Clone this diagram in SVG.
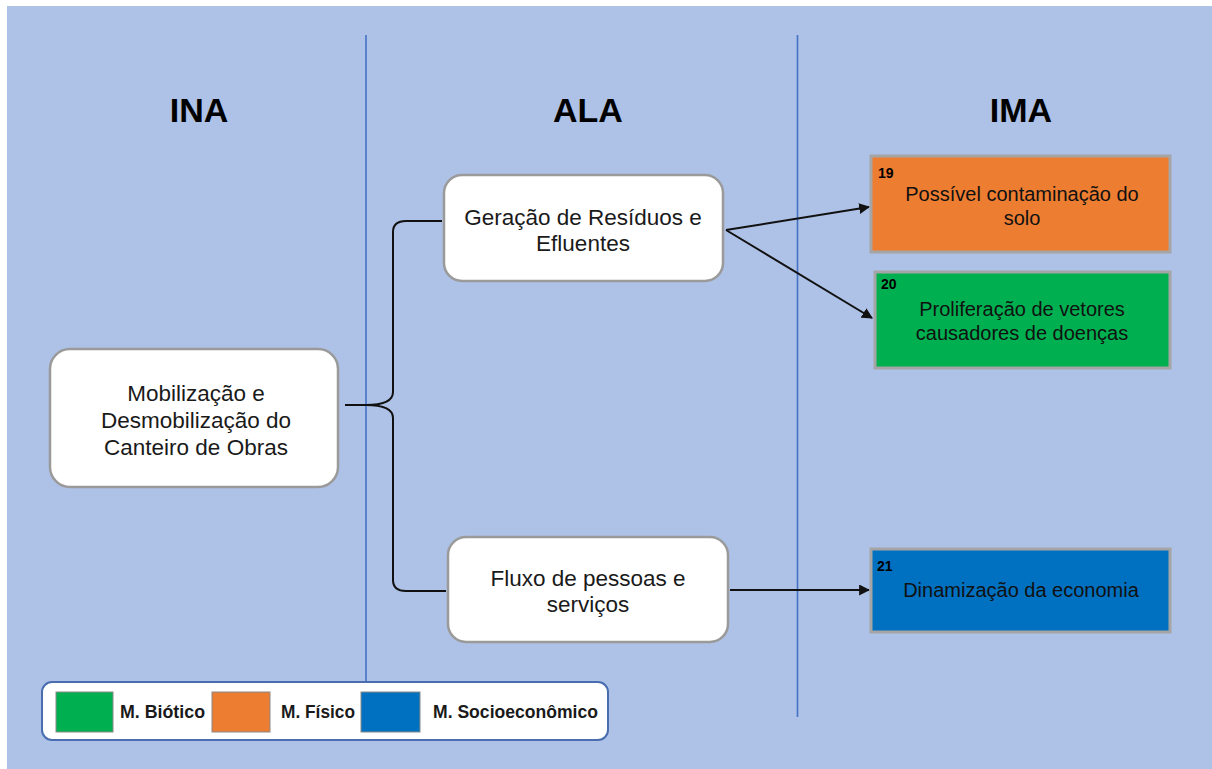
<svg xmlns="http://www.w3.org/2000/svg" width="1212" height="769" viewBox="0 0 1212 769">
<style>
text{font-family:"Liberation Sans",Arial,sans-serif;fill:#1a1a1a}
.hdr{font-size:34px;font-weight:bold;text-anchor:middle;fill:#000}
.nd{fill:#fff;stroke:#9a9a9a;stroke-width:2.5}
.nt2{font-size:22.5px;text-anchor:middle}
.imp{stroke:#a5a5a5;stroke-width:3}
.num{font-size:14px;font-weight:bold;fill:#000}
.it{font-size:20px;text-anchor:middle;fill:#111}
.lg{font-size:17.5px;font-weight:bold}
.sep{stroke:#4472c4;stroke-width:1.6}
.cn{fill:none;stroke:#111;stroke-width:2}
</style>
<defs>
<marker id="ah" viewBox="0 0 10 10" refX="9" refY="5" markerWidth="5.5" markerHeight="5.5" orient="auto"><path d="M0,0 L10,5 L0,10 z" fill="#111"/></marker>
</defs>
<rect x="0" y="0" width="1212" height="769" fill="#ffffff"/>
<rect x="7" y="6" width="1205" height="763" fill="#aec1e6"/>
<line class="sep" x1="366" y1="35" x2="366" y2="683"/>
<line class="sep" x1="797.5" y1="35" x2="797.5" y2="717"/>
<g id="headers">
<text class="hdr" x="199" y="122">INA</text>
<text class="hdr" x="588" y="122">ALA</text>
<text class="hdr" x="1021" y="122">IMA</text>
</g>
<g id="connectors">
<path class="cn" d="M345,405 L366,405 C380,405 393,402 393,392 L393,232 C393,224 398,221 406,221 L442,221"/>
<path class="cn" d="M366,405 C380,405 393,408 393,418 L393,580 C393,588 398,591 406,591 L446,591"/>
<line class="cn" x1="726" y1="230" x2="869" y2="207" marker-end="url(#ah)"/>
<line class="cn" x1="726" y1="230" x2="872" y2="318" marker-end="url(#ah)"/>
<line class="cn" x1="730" y1="590" x2="869" y2="590" marker-end="url(#ah)"/>
</g>
<g id="n-mobilizacao">
<rect class="nd" x="50" y="349" width="288" height="138" rx="20"/>
<text class="nt2" x="196" y="401">Mobilização e</text>
<text class="nt2" x="196" y="428">Desmobilização do</text>
<text class="nt2" x="196" y="455">Canteiro de Obras</text>
</g>
<g id="n-geracao">
<rect class="nd" x="444" y="175" width="279" height="106" rx="18"/>
<text class="nt2" x="583" y="225">Geração de Resíduos e</text>
<text class="nt2" x="583" y="251">Efluentes</text>
</g>
<g id="n-fluxo">
<rect class="nd" x="448" y="537" width="280" height="105" rx="18"/>
<text class="nt2" x="588" y="586">Fluxo de pessoas e</text>
<text class="nt2" x="588" y="612">serviços</text>
</g>
<g id="n-19">
<rect class="imp" x="871" y="156" width="299" height="96" fill="#ed7d31"/>
<text class="num" x="878" y="178">19</text>
<text class="it" x="1022" y="201">Possível contaminação do</text>
<text class="it" x="1022" y="225">solo</text>
</g>
<g id="n-20">
<rect class="imp" x="875" y="272" width="295" height="96" fill="#00b050"/>
<text class="num" x="881" y="289">20</text>
<text class="it" x="1022" y="316">Proliferação de vetores</text>
<text class="it" x="1022" y="340">causadores de doenças</text>
</g>
<g id="n-21">
<rect class="imp" x="871" y="549" width="299" height="83" fill="#0070c0"/>
<text class="num" x="877" y="571">21</text>
<text class="it" x="1021" y="597">Dinamização da economia</text>
</g>
<g id="legend">
<rect x="42" y="682" width="566" height="58" rx="10" fill="#fff" stroke="#4a6db0" stroke-width="2"/>
<rect x="56" y="692" width="57" height="40" fill="#00b050" stroke="#8a8a8a" stroke-width="1"/>
<text class="lg" x="120" y="718" textLength="85" lengthAdjust="spacingAndGlyphs">M. Biótico</text>
<rect x="212" y="692" width="58" height="40" fill="#ed7d31" stroke="#8a8a8a" stroke-width="1"/>
<text class="lg" x="281" y="718" textLength="74" lengthAdjust="spacingAndGlyphs">M. Físico</text>
<rect x="361" y="692" width="59" height="40" fill="#0070c0" stroke="#8a8a8a" stroke-width="1"/>
<text class="lg" x="433" y="718" textLength="165" lengthAdjust="spacingAndGlyphs">M. Socioeconômico</text>
</g>
</svg>
